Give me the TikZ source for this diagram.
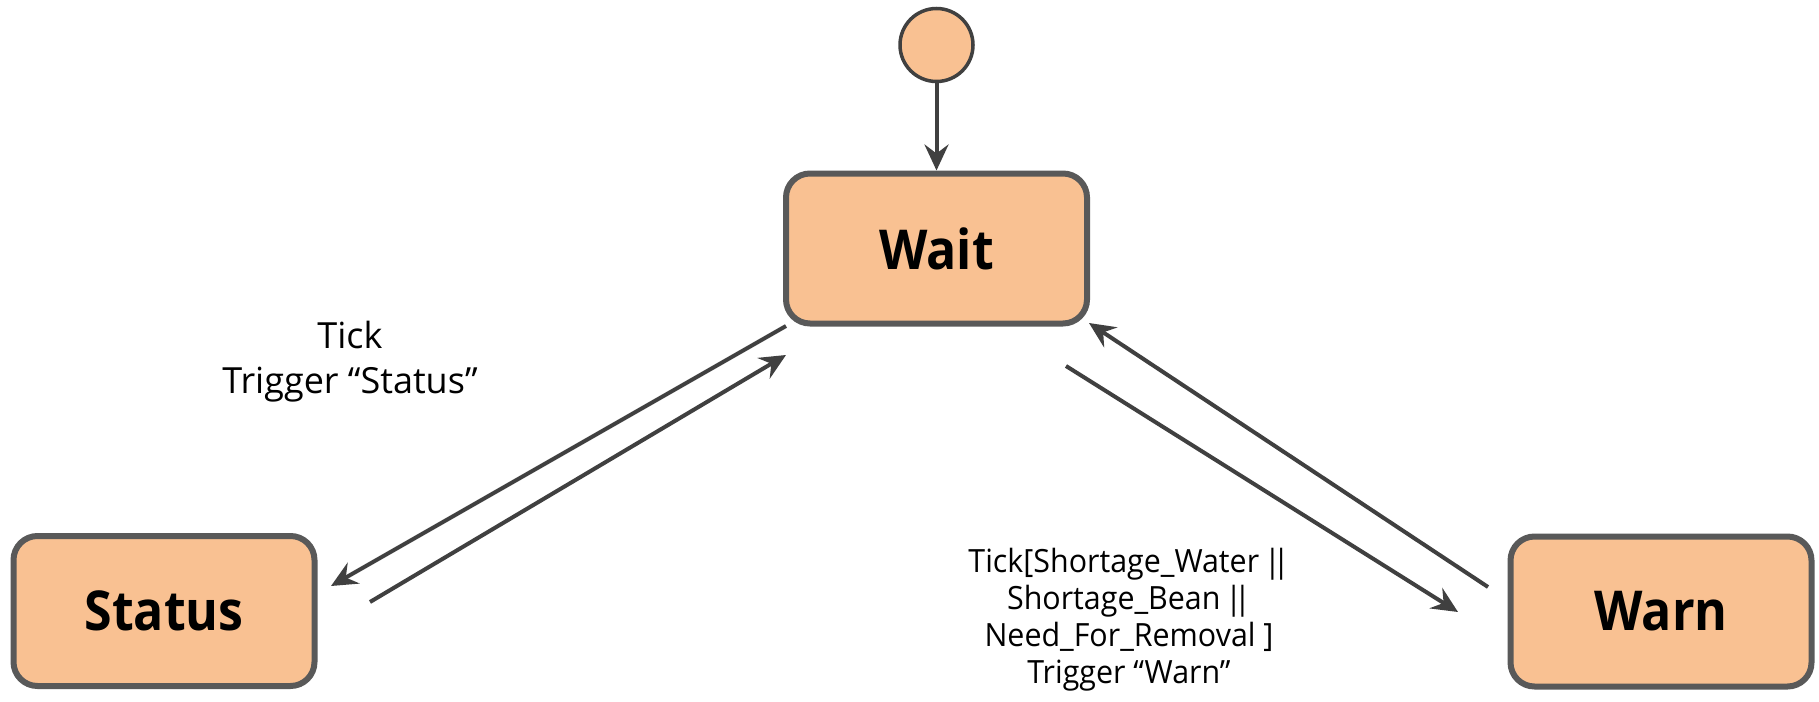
\documentclass[tikz,border=0pt]{standalone}
\usepackage{fontspec}
\setmainfont{Open Sans}
\newfontfamily\statefont{Open Sans}[FakeStretch=0.91]
\newfontfamily\guardfont{Open Sans}[FakeStretch=0.95]
\usetikzlibrary{arrows.meta}
\definecolor{statefill}{HTML}{F9C192}
\definecolor{stateline}{HTML}{595959}
\definecolor{arrowline}{HTML}{404040}
% tight double bar used in the guard
\newcommand{\orbar}{\kern-3pt|\kern-8pt|}
\begin{document}
\begin{tikzpicture}[x=1pt,y=-1pt,
  statebox/.style={draw=stateline, fill=statefill, line width=6pt, rounded corners=24pt,
    minimum width=301pt, minimum height=150pt, inner sep=0pt,
    font=\statefont\fontsize{55}{60}\selectfont\bfseries},
  initstate/.style={circle, draw=arrowline, fill=statefill, line width=3.5pt,
    minimum size=73pt, inner sep=0pt},
  trans/.style={draw=arrowline, line width=4pt,
    -{Stealth[length=26pt, width=24pt, inset=9pt]}},
  translabel/.style={align=center, font=\guardfont\fontsize{32}{37}\selectfont}
]
\useasboundingbox (0,0) rectangle (1819,701);

% states
\node[initstate] (init) at (936.5,45) {};
\node[statebox] (wait) at (936.5,248.5) {Wait};
\node[statebox] (status) at (164,611) {Status};
\node[statebox] (warn) at (1661,611.5) {Warn};

% end points of the parallel transition pairs
\coordinate (waitSW1) at (786,326);
\coordinate (statusIn) at (331,586);
\coordinate (statusOut) at (370,602);
\coordinate (waitSW2) at (786,355);
\coordinate (waitSE1) at (1066,366);
\coordinate (warnIn) at (1458,612);
\coordinate (warnOut) at (1488,587);
\coordinate (waitSE2) at (1089,323);

% transitions
\draw[trans] (init) -- (wait);
\draw[trans] (waitSW1) -- (statusIn);
\draw[trans] (statusOut) -- (waitSW2);
\draw[trans] (waitSE1) -- (warnIn);
\draw[trans] (warnOut) -- (waitSE2);

% labels
\node[translabel, font=\fontsize{36}{45}\selectfont] (lblStatus) at (350,362)
  {Tick\\Trigger “Status”};
\node[translabel] (lblWarn) at (1129,620)
  {Tick[Shortage\_Water \orbar\\Shortage\_Bean \orbar\\Need\_For\_Removal ]\\Trigger “Warn”};
\end{tikzpicture}
\end{document}
